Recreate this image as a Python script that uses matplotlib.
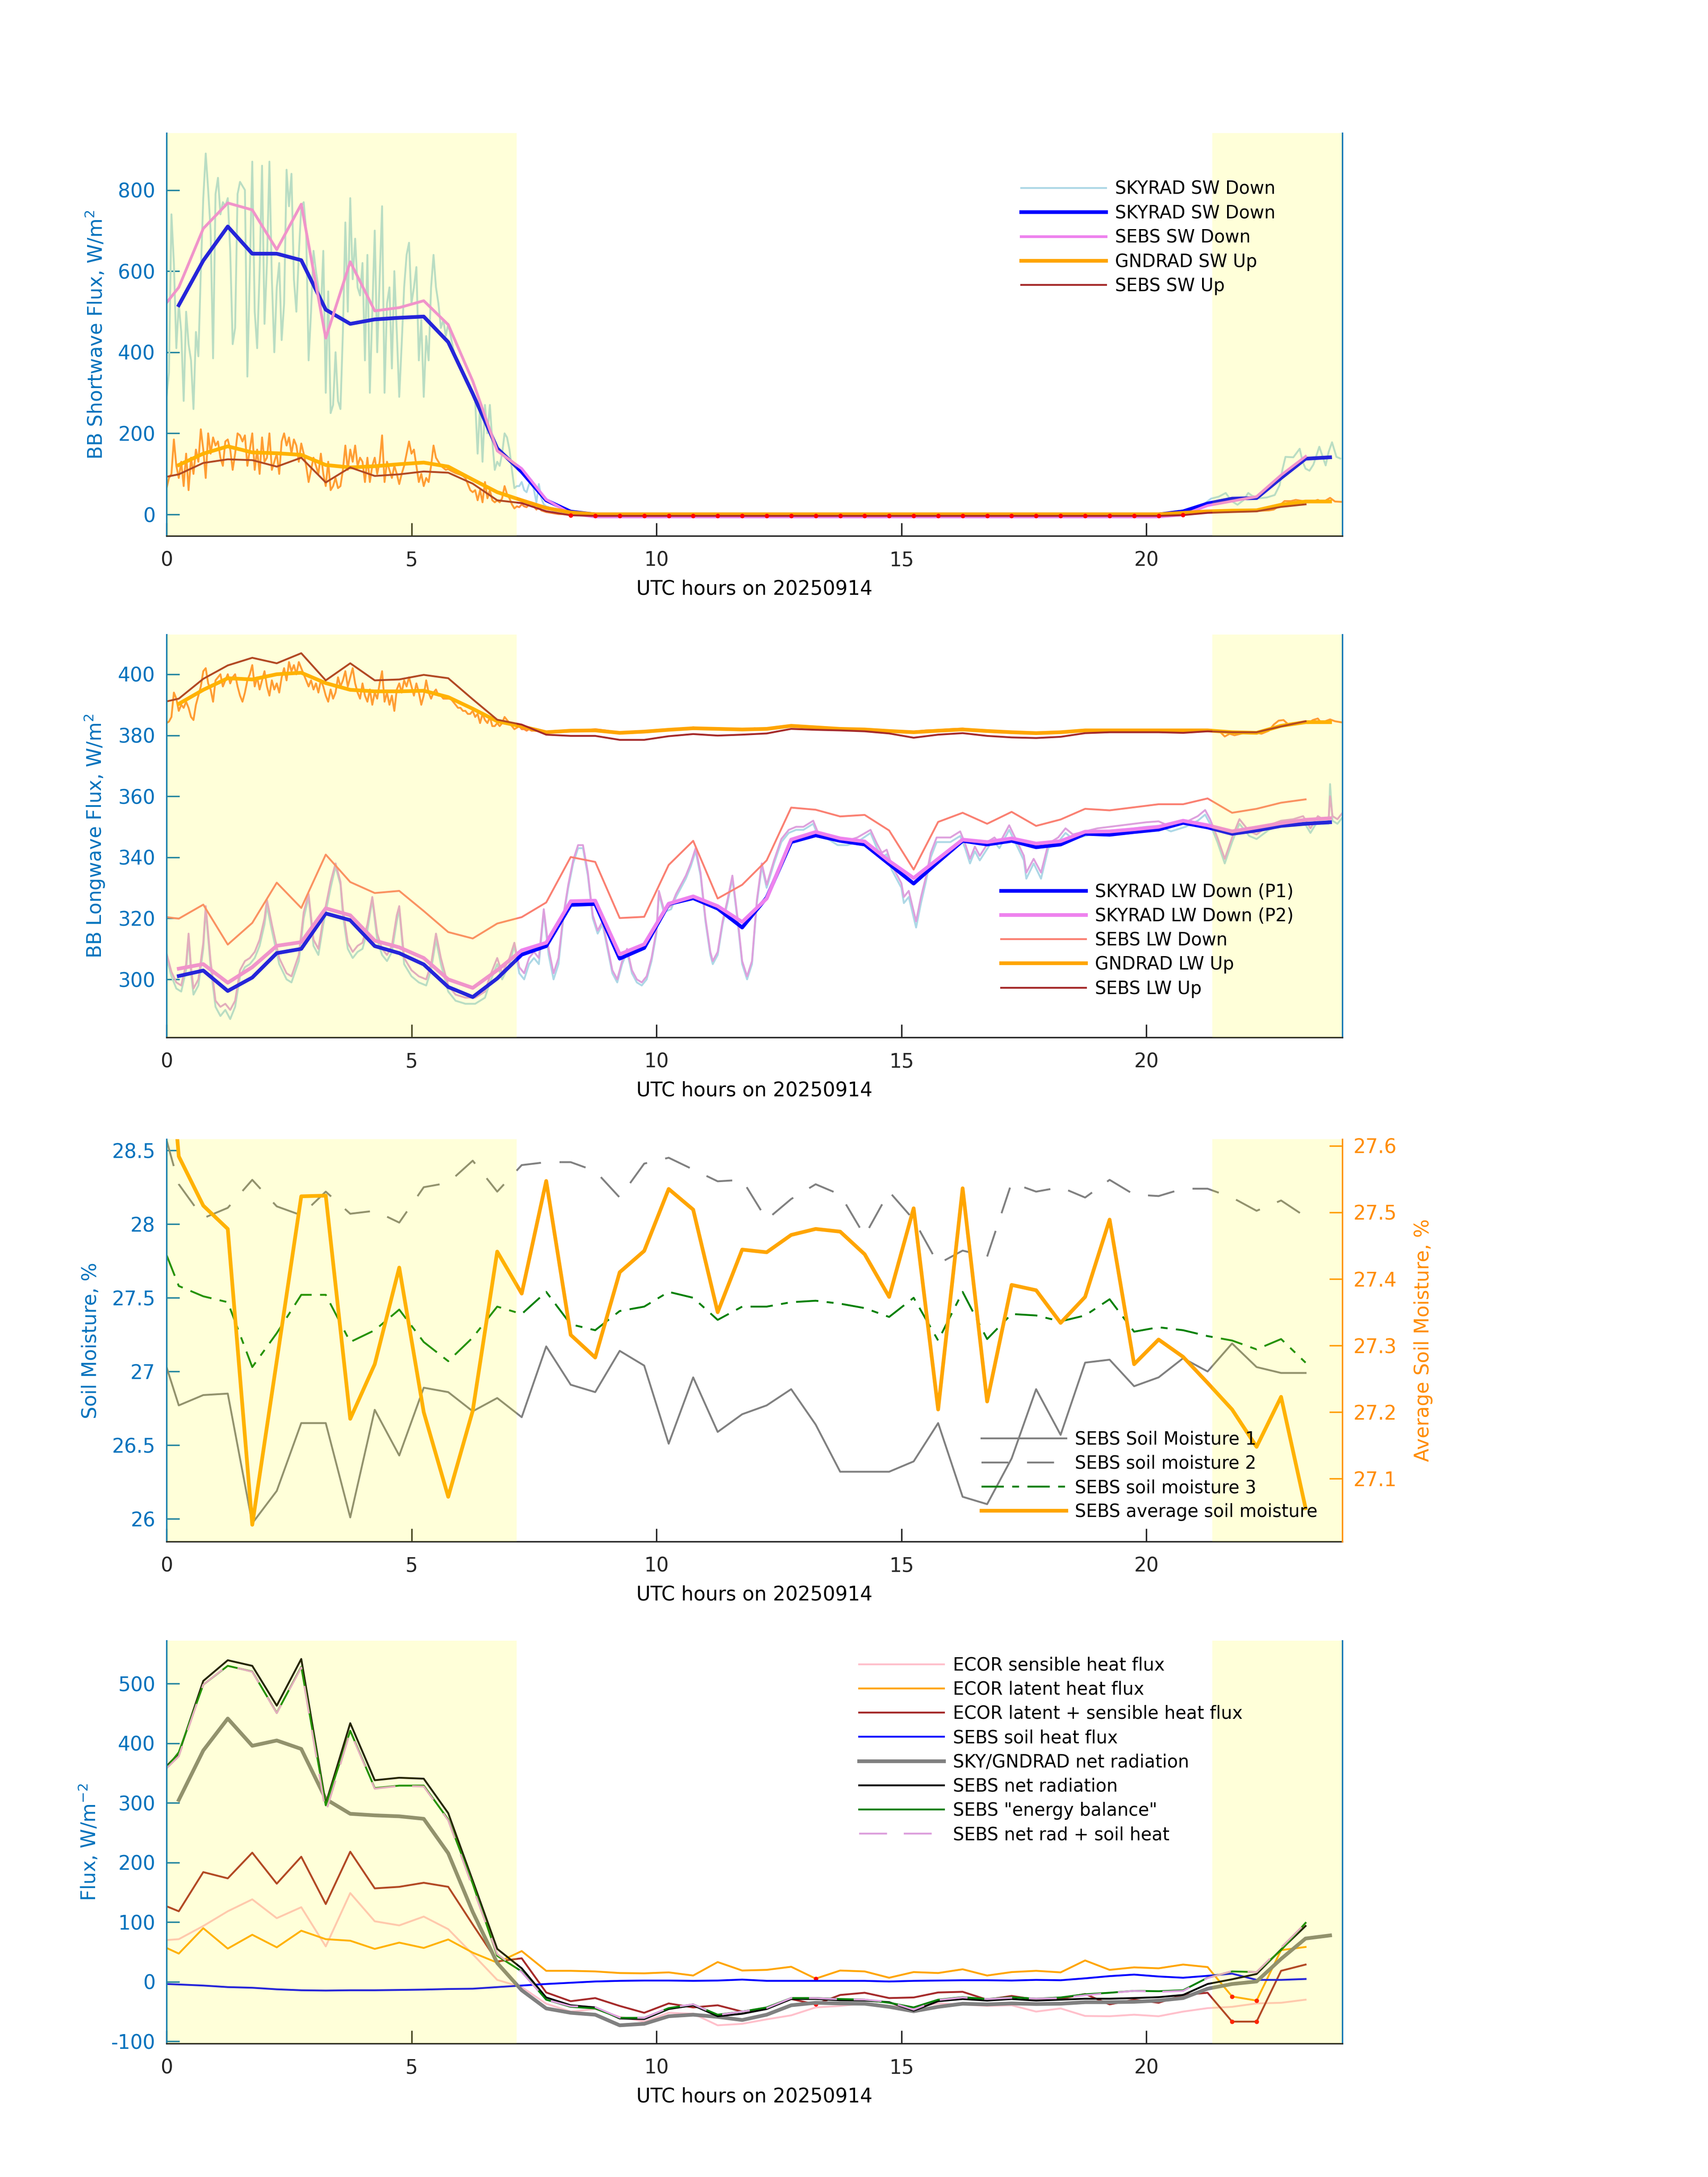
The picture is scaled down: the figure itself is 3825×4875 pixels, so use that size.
import numpy as np
import matplotlib
matplotlib.use('Agg')
import matplotlib.pyplot as plt
from matplotlib.ticker import FuncFormatter

AX_BLUE = '#0072BD'
AX_ORANGE = '#FF8C00'
DARK = '#262626'

# half-hour time grids, UTC hours
t_sky = np.arange(0.25, 24.0, 0.5)
t_sebs = np.r_[0.0, np.arange(0.25, 23.5, 0.5)]

# daylight shading
day_start = [0.0, 21.35]
day_end = [7.15, 24.0]

# ---------------- panel 1: shortwave ----------------
t_hr_morning = np.round(np.arange(0.0, 8.001, 0.05), 2)

sw_dn_hr_late_t = [8.5, 20.5, 20.8, 21.0, 21.2, 21.32, 21.48, 21.62, 21.74, 21.86, 21.98,
                   22.08, 22.16, 22.3, 22.46, 22.62, 22.72, 22.78, 22.84, 23.0, 23.13,
                   23.19, 23.25, 23.33, 23.41, 23.53, 23.66, 23.72, 23.79, 23.88, 23.96]
sw_dn_hr = [
    290, 350, 740, 620, 410, 520, 450, 280, 500, 420, 380, 260, 450, 390, 600, 780, 890, 800, 700, 385,
    790, 830, 740, 770, 760, 780, 650, 420, 460, 790, 820, 810, 800, 340, 600, 870, 500, 410, 600, 860,
    470, 620, 870, 580, 400, 560, 620, 430, 520, 850, 760, 840, 580, 500, 640, 760, 770, 700, 380, 500,
    650, 600, 560, 500, 650, 300, 550, 250, 270, 400, 280, 260, 450, 720, 500, 780, 580, 680, 560, 540,
    620, 380, 640, 300, 500, 700, 400, 580, 760, 300, 520, 560, 360, 600, 450, 290, 420, 560, 640, 670,
    520, 560, 610, 380, 480, 290, 440, 380, 560, 640, 560, 520, 460, 480, 440, 470, 440, 410, 390, 380,
    360, 350, 330, 320, 310, 300, 280, 150, 270, 130, 270, 200, 270, 180, 110, 130, 120, 150, 200, 190,
    160, 110, 65, 70, 70, 80, 60, 55, 75, 85, 60, 30, 75, 40, 25, 20, 18, 12, 8, 5,
    3,
    0, 0, 3, 10, 28, 39, 44, 53, 33, 24, 35, 53, 46, 40, 42, 48, 72, 112, 142, 141,
    162, 130, 113, 108, 123, 167, 121, 154, 178, 142, 138]

sw_up_hr_late_t = [8.5, 20.5, 21.0, 21.5, 22.0, 22.5, 22.6, 22.7, 22.82, 22.95, 23.05,
                   23.2, 23.35, 23.5, 23.6, 23.75, 23.85, 24.0]
sw_up_hr = [
    65, 90, 100, 185, 120, 90, 130, 70, 150, 60, 140, 100, 160, 130, 210, 160, 90, 200, 150, 190,
    170, 180, 140, 120, 180, 185, 160, 110, 150, 200, 195, 180, 195, 120, 160, 200, 110, 160, 100, 190,
    130, 140, 200, 110, 130, 150, 100, 180, 200, 170, 190, 150, 185, 170, 130, 175, 150, 120, 80, 110,
    140, 120, 100, 150, 100, 70, 130, 60, 70, 90, 65, 70, 110, 170, 110, 160, 130, 170, 120, 140,
    130, 80, 140, 80, 120, 140, 100, 130, 195, 80, 130, 110, 90, 120, 100, 75, 100, 120, 150, 180,
    150, 160, 120, 80, 100, 70, 90, 80, 120, 170, 140, 130, 120, 115, 110, 112, 108, 105, 102, 100,
    98, 95, 90, 75, 60, 55, 60, 35, 60, 30, 80, 40, 60, 35, 30, 35, 30, 40, 70, 50,
    40, 25, 15, 20, 18, 25, 20, 18, 25, 30, 20, 12, 20, 10, 8, 6, 5, 4, 3, 2,
    1,
    0, 0, 3, 6, 8, 10, 12, 20, 33, 33, 36, 33, 30, 36, 30, 41, 32, 31]

sky_sw_dn = [516, 626, 710, 643, 643, 627, 505, 470, 481, 485, 488, 425, 298, 163, 105, 35, 7,
             0, 0, 0, 0, 0, 0, 0, 0, 0, 0, 0, 0, 0, 0, 0, 0, 0, 0, 0, 0, 0, 0, 0, 0,
             7.7, 27, 39, 40.5, 90, 137.5, 141]
gnd_sw_up = [122, 150, 168, 153, 151, 147, 122, 116, 119, 124, 128, 118, 86, 55, 35, 16, 5,
             0.5, 0.5, 0.5, 0.5, 0.5, 0.5, 0.5, 0.5, 0.5, 0.5, 0.5, 0.5, 0.5, 0.5, 0.5, 0.5,
             0.5, 0.5, 0.5, 0.5, 0.5, 0.5, 0.5, 0.5,
             4, 7.7, 9.5, 10.3, 24, 32, 32]
sebs_sw_dn = [522, 560, 705, 768, 751, 653, 765, 435, 623, 502, 510, 527, 468, 329, 157, 113, 37, 2,
              -6, -6, -6, -6, -6, -6, -6, -6, -6, -6, -6, -6, -6, -6, -6, -6, -6, -6, -6, -6,
              -6, -6, -6, -6,
              -1, 22, 33, 44, 97, 143]
sebs_sw_up = [93, 99, 127, 136, 134, 118, 140, 79, 116, 95, 99, 106, 103, 76, 35, 28, 8, -2,
              -3.5, -3.5, -3.5, -3.5, -3.5, -3.5, -3.5, -3.5, -3.5, -3.5, -3.5, -3.5, -3.5,
              -3.5, -3.5, -3.5, -3.5, -3.5, -3.5, -3.5, -3.5, -3.5, -3.5, -3.5,
              -1.5, 4, 6, 7.7, 18.7, 25]

# ---------------- panel 2: longwave ----------------
lw_dn_hr_t = [
    0.0, 0.1, 0.2, 0.3, 0.4, 0.45, 0.5, 0.55, 0.65, 0.75, 0.8, 0.9, 1.0, 1.1, 1.2, 1.3, 1.4, 1.5,
    1.6, 1.7, 1.8, 1.9, 2.0, 2.05, 2.15, 2.3, 2.45, 2.55, 2.7, 2.8, 2.9, 3.0, 3.1, 3.2, 3.35, 3.45,
    3.55, 3.6, 3.7, 3.8, 3.9, 4.0, 4.1, 4.2, 4.3, 4.4, 4.5, 4.6, 4.7, 4.75, 4.85, 5.0, 5.15, 5.3,
    5.4, 5.5, 5.6, 5.75, 5.9, 6.1, 6.3, 6.5, 6.6, 6.75, 6.85, 7.0, 7.1, 7.2, 7.3, 7.4, 7.5, 7.6,
    7.7, 7.8, 7.9, 8.0, 8.1, 8.2, 8.3, 8.4, 8.5, 8.6, 8.7, 8.8, 8.9, 9.0, 9.1, 9.2, 9.3, 9.4,
    9.5, 9.6, 9.7, 9.8, 9.9, 10.0, 10.05, 10.15, 10.3, 10.4, 10.5, 10.6, 10.7, 10.8, 10.9, 11.0,
    11.1, 11.15, 11.25, 11.35, 11.45, 11.55, 11.65, 11.75, 11.85, 11.95, 12.05, 12.15, 12.25,
    12.4, 12.55, 12.7, 12.85, 13.0, 13.1, 13.2, 13.3, 13.5, 13.7, 13.9, 14.1, 14.37, 14.5, 14.6,
    14.7, 14.8, 14.9, 15.0, 15.05, 15.15, 15.3, 15.4, 15.5, 15.6, 15.72, 16.0, 16.2, 16.3, 16.4,
    16.5, 16.6, 16.8, 16.9, 17.0, 17.1, 17.2, 17.35, 17.5, 17.55, 17.7, 17.85, 18.0, 18.2, 18.35,
    18.5, 18.75, 19.0, 19.25, 19.5, 19.75, 20.0, 20.25, 20.5, 20.8, 21.05, 21.2, 21.3, 21.45,
    21.6, 21.75, 21.9, 22.1, 22.25, 22.5, 22.75, 23.0, 23.2, 23.35, 23.5, 23.6, 23.72, 23.75,
    23.8, 23.9, 24.0]
lw_dn_p1_hr = [
    307, 301, 297, 296, 303, 314, 302, 295, 298, 310, 323, 304, 291, 288, 290, 287, 291, 301,
    304, 305, 307, 311, 318, 324, 316, 305, 300, 299, 306, 320, 327, 311, 308, 318, 330, 337,
    331, 321, 310, 307, 309, 310, 316, 326, 313, 308, 306, 309, 319, 323, 305, 301, 299, 298,
    303, 313, 305, 296, 293, 292, 292, 294, 299, 305, 300, 305, 311, 302, 300, 305, 307, 305,
    322, 308, 300, 305, 320, 330, 338, 343, 343, 334, 320, 315, 318, 310, 302, 299, 305, 309,
    302, 299, 298, 300, 306, 315, 328, 322, 323, 327, 330, 333, 337, 342, 334, 319,
    308, 305, 308, 318, 325, 333, 320, 305, 300, 305, 325, 337, 330,
    338, 345, 348, 349, 349, 350, 351, 347, 346, 344, 344, 345, 348, 343, 340,
    341, 336, 333, 330, 325, 327, 317, 325, 332, 340, 345, 345, 347, 343, 338,
    342, 339, 344, 345, 343, 346, 349, 344, 339, 333, 338, 333, 343, 345, 348,
    346, 347, 348, 348.5, 349, 349.5, 350, 350.3, 348.5, 350, 352, 354, 351, 345,
    338, 345, 351, 347, 346, 349, 350.5, 351, 352, 348, 352, 351, 351, 364,
    352, 351, 353]
lw_dn_p2_hr = [
    308.5, 302.5, 299, 298, 305, 315, 304, 297, 300, 312, 324, 306, 293, 291, 292, 290, 293, 303,
    306, 307, 309, 313, 320, 326, 318, 307, 302, 301, 308, 322, 328, 313, 310, 320, 332, 338,
    332, 323, 312, 309, 311, 312, 318, 327, 315, 310, 308, 311, 321, 324, 307, 303, 301, 300,
    305, 315, 307, 298, 295, 294, 294, 296, 301, 307, 302, 307, 312, 304, 302, 307, 309, 307,
    323, 310, 302, 307, 321, 331, 339, 344, 344, 335, 321, 316, 319, 311, 303, 300, 306, 310,
    303, 300, 299, 301, 307, 316, 329, 323, 324, 328, 331, 334, 338, 343, 335, 320,
    309, 306, 309, 319, 326, 334, 321, 306, 301, 306, 326, 338, 331,
    339, 346, 349, 350, 350, 351, 352, 348, 347, 345.5, 345.5, 346.5, 349, 344.5, 341.5,
    342.5, 337.5, 334.5, 331.5, 327, 329, 319, 327, 333.5, 341.5, 346.5, 346.5, 348.5, 344.5, 339.5,
    343.5, 340.5, 345.5, 346.5, 344.5, 347.5, 350.5, 345.5, 340.5, 335, 339.5, 335, 344.5, 346.5, 349.5,
    347.5, 348.5, 349.5, 350, 350.5, 351, 351.5, 351.8, 350, 351.5, 353.5, 355.5, 352.5, 346.5,
    339.5, 346.5, 352.5, 348.5, 347.5, 350.5, 352, 352.5, 353.5, 349.5, 353.5, 352.5, 352.5, 360,
    353.5, 352.5, 354.5]

lw_up_hr_late_t = np.r_[np.arange(7.75, 19.01, 0.25),
                        [19.5, 20.0, 20.5, 21.0, 21.5, 21.6, 21.7, 21.8, 22.0, 22.2, 22.35,
                         22.5, 22.6, 22.7, 22.8, 22.9, 23.0, 23.1, 23.2, 23.3, 23.4, 23.5,
                         23.55, 23.65, 23.75, 23.85, 24.0]]
lw_up_hr = [
    384, 384.5, 386, 394, 392, 388, 390, 389, 391, 389, 386, 385, 390, 393, 396, 401, 402, 397, 395, 391,
    398, 399, 400, 396, 398, 400, 397, 399, 400, 396, 393, 391, 394, 398, 400, 403, 396, 399, 395, 398,
    401, 396, 393, 398, 395, 397, 394, 399, 402, 398, 404, 401, 403, 400, 404, 402, 400, 398, 396, 398,
    395, 397, 394, 398, 396, 393, 391, 395, 392, 394, 399, 396, 398, 401, 396, 399, 402, 397, 394, 392,
    397, 393, 391, 395, 390, 394, 392, 397, 401, 391, 394, 390, 393, 388, 395, 397, 394, 398, 396, 399,
    396, 393, 397, 394, 390, 393, 398, 394, 392, 394, 395, 393, 393, 392, 392, 392, 392, 391, 390, 389,
    389, 388, 388, 387, 387, 388, 386, 387, 384, 387, 385, 384, 386, 383, 383, 384, 383, 384, 386, 385,
    384, 383, 382, 382.5, 383, 382, 382, 381.5, 382, 381.5, 381.5,
    381.2, 381.5, 381.3, 381.5, 382, 381.5, 380.6, 380.8, 381, 381.5, 381.8, 382, 382.6, 382.2,
    382, 382, 381.7, 382.3, 382, 382.5, 383, 383, 382.7, 382.3, 382, 382, 381.8, 381.7, 381.2,
    381, 381.2, 381.6, 381.7, 382, 382.2, 381.6, 381.4, 381.2, 380.9, 380.7, 380.8, 381, 381.1,
    381.5, 381.6, 381.6, 381.7, 381.6, 381.5, 381.6, 381.2, 379.6, 380.5, 380, 380.8, 381, 380.5,
    381.5, 383.5, 384.8, 385, 383.5, 384, 383.8, 384.5, 384, 385, 385.5, 384.5, 384.6, 385.2,
    384.6, 384.2]

sky_lw_dn_p1 = [301.1, 302.9, 296.2, 300.6, 308.6, 310.0, 321.6, 319.4, 310.9, 308.6, 304.9, 297.5,
                294.2, 300.3, 308.1, 310.9, 324.4, 324.7, 306.8, 310.3, 324.7, 326.6, 323.2, 317.0,
                326.8, 345.0, 347.2, 345.4, 344.2, 337.8, 331.4, 338.5, 345.4, 344.2, 345.4, 343.3,
                344.2, 347.7, 347.4, 348.3, 349.1, 351.3, 349.8, 347.7, 348.8, 350.3, 351.0, 351.5]
sky_lw_dn_p2 = [303.5, 305.0, 298.9, 304.0, 311.0, 312.2, 323.3, 321.0, 312.7, 310.5, 307.0, 300.0,
                297.2, 303.0, 309.5, 312.0, 325.6, 325.8, 308.2, 311.5, 324.8, 327.2, 324.0, 318.8,
                326.5, 345.8, 348.3, 346.2, 345.2, 338.8, 333.2, 339.5, 345.8, 345.0, 346.2, 344.5,
                345.3, 348.4, 348.5, 349.2, 350.0, 352.0, 350.5, 348.5, 349.8, 351.2, 352.3, 352.8]
sebs_lw_dn = [320.4, 319.9, 324.5, 311.4, 318.5, 331.7, 323.4, 340.9, 331.9, 328.3, 329.0, 322.4,
              315.5, 313.4, 318.3, 320.4, 325.2, 340.1, 338.5, 320.1, 320.5, 337.5, 345.4, 326.5,
              331.0, 339.0, 356.3, 355.6, 353.4, 353.9, 348.8, 336.0, 351.6, 354.6, 351.0, 354.9,
              350.3, 352.4, 355.9, 355.4, 356.4, 357.4, 357.4, 359.3, 354.6, 355.9, 357.9, 359.0]
gnd_lw_up = [390.3, 394.9, 398.7, 398.3, 400.0, 400.5, 397.1, 394.9, 394.4, 394.4, 394.6, 392.5,
             388.7, 384.6, 382.9, 381.0, 381.5, 381.6, 380.8, 381.2, 381.8, 382.3, 382.1, 381.9,
             382.1, 383.1, 382.6, 382.1, 381.9, 381.4, 381.0, 381.5, 381.9, 381.4, 381.0, 380.7,
             381.0, 381.6, 381.6, 381.6, 381.6, 381.6, 381.6, 381.0, 380.8, 383.1, 384.3, 384.3]
sebs_lw_up = [391.1, 392.0, 398.5, 402.9, 405.4, 403.6, 406.9, 398.0, 403.6, 398.0, 398.3, 399.8,
              398.7, 391.8, 385.1, 383.5, 380.2, 379.8, 379.8, 378.5, 378.5, 379.7, 380.4, 379.9,
              380.2, 380.6, 382.1, 381.8, 381.6, 381.3, 380.6, 379.2, 380.2, 380.7, 379.8, 379.3,
              379.1, 379.5, 380.7, 381.0, 381.0, 381.0, 380.8, 381.3, 381.0, 381.0, 382.9, 384.6]

# ---------------- panel 3: soil moisture ----------------
sm1 = [27.03, 26.77, 26.84, 26.85, 25.97, 26.19, 26.65, 26.65, 26.01, 26.74, 26.43, 26.89,
       26.86, 26.73, 26.82, 26.69, 27.17, 26.91, 26.86, 27.14, 27.04, 26.51, 26.96, 26.59,
       26.71, 26.77, 26.88, 26.64, 26.32, 26.32, 26.32, 26.39, 26.65, 26.15, 26.10, 26.41,
       26.88, 26.57, 27.06, 27.08, 26.90, 26.96, 27.09, 27.00, 27.19, 27.03, 26.99, 26.99]
sm2 = [28.57, 28.27, 28.04, 28.11, 28.30, 28.12, 28.06, 28.22, 28.07, 28.09, 28.01, 28.25,
       28.28, 28.43, 28.22, 28.40, 28.42, 28.42, 28.36, 28.18, 28.41, 28.45, 28.37, 28.29,
       28.30, 28.03, 28.17, 28.27, 28.20, 27.92, 28.22, 28.03, 27.73, 27.82, 27.78, 28.28,
       28.22, 28.25, 28.18, 28.30, 28.20, 28.19, 28.24, 28.24, 28.18, 28.09, 28.16, 28.05]
sm3 = [27.79, 27.58, 27.51, 27.47, 27.03, 27.26, 27.52, 27.52, 27.20, 27.28, 27.42, 27.20,
       27.07, 27.23, 27.44, 27.39, 27.54, 27.32, 27.28, 27.41, 27.44, 27.54, 27.50, 27.35,
       27.44, 27.44, 27.47, 27.48, 27.46, 27.43, 27.37, 27.50, 27.21, 27.54, 27.22, 27.39,
       27.38, 27.34, 27.38, 27.49, 27.27, 27.30, 27.28, 27.24, 27.21, 27.15, 27.22, 27.06]
sm_avg = [27.80, 27.584, 27.51, 27.475, 27.031, 27.277, 27.524, 27.525, 27.19, 27.272, 27.417,
          27.2, 27.073, 27.202, 27.441, 27.378, 27.547, 27.316, 27.282, 27.41, 27.442, 27.535,
          27.504, 27.35, 27.444, 27.44, 27.466, 27.475, 27.471, 27.437, 27.373, 27.506, 27.204,
          27.536, 27.216, 27.391, 27.383, 27.334, 27.373, 27.489, 27.272, 27.309, 27.283, 27.244,
          27.204, 27.148, 27.223, 27.056]

# ---------------- panel 4: energy fluxes ----------------
ecor_h = [70, 71.5, 93.6, 118.3, 138.3, 106.7, 125.1, 59.4, 148.8, 101.5, 94.6, 109.4, 88.3,
          46.3, 3.2, -8.9, -36.8, -50, -45.7, -58.9, -66.8, -52, -53.6, -73, -70.5, -63, -56.3,
          -43, -40.5, -36.3, -40.5, -43, -36.3, -37.9, -40.5, -39.4, -50, -44.7, -57.3, -57.8,
          -55.2, -57.8, -50, -44.2, -42, -36.3, -35.2, -30]
ecor_le = [56.8, 47.3, 89.9, 55.7, 78.9, 57.8, 85.7, 71.5, 68.9, 55.2, 65.7, 56.8, 71, 48.9,
           32.1, 51.5, 18.4, 18.4, 17.4, 14.7, 14.2, 15.8, 10.5, 33.1, 18.9, 20, 25.2, 5.3, 18.9,
           17.4, 6.8, 16.3, 14.7, 21, 10.5, 16.3, 18.4, 15.8, 35.8, 20, 24.2, 22.6, 28.9, 24.7,
           -24.7, -31.5, 53.1, 58.4]
ecor_hle = [126.7, 118.3, 184, 173.5, 216.6, 164.6, 209.8, 130.4, 218.2, 156.7, 159.3, 166.1,
            159.3, 96.2, 34.2, 39.4, -17.9, -32.6, -27.3, -40.5, -52, -36.3, -43, -39.4, -50,
            -44.7, -28.9, -37.9, -22.1, -18.4, -27.3, -26.3, -17.9, -16.8, -30, -23.7, -30, -28.4,
            -20.5, -37.9, -30, -35.2, -22.1, -18.4, -66.8, -66.8, 18.4, 28.9]
ecor_flagged = [27, 44, 45]   # indices of QC-flagged ECOR half hours
sebs_g = [-3.7, -4.5, -6.3, -8.9, -10, -12.6, -14.2, -14.7, -14.2, -14.2, -13.7, -13.1, -12.1,
          -11.6, -8.9, -6.3, -3.7, -1.6, 0.5, 1.6, 2.1, 2.1, 1.6, 2.1, 3.7, 1.6, 1.6, 1.6, 1.6,
          1.6, 0.5, 1.6, 2.1, 2.6, 2.6, 2.1, 3.2, 2.6, 5.8, 9.5, 12.1, 8.9, 6.8, 10, 13.7, 3.2,
          3.2, 4.7]
sky_net = [305, 388, 441.6, 395.9, 404.8, 390.6, 306.5, 281.8, 279.2, 277.6, 273.4, 215.6, 117.2,
           31.5, -14.2, -44.7, -52, -55.2, -73, -70.5, -57.8, -55.2, -58.9, -64.1, -55.2, -39.4,
           -35.2, -36.3, -36.8, -42, -49.4, -42, -36.8, -37.9, -36.3, -37.3, -36.8, -34.2, -34.2,
           -33.6, -31.5, -27.3, -11.6, -3.7, 0.5, 38.4, 72.6, 77.8]
sebs_net = [361.7, 382.8, 504.7, 539.4, 530, 463.2, 541.5, 298.6, 433.8, 338.1, 342.3, 340.7,
            282.9, 169.8, 55.2, 22.6, -26.3, -39.4, -43, -61.5, -62.6, -45.7, -39.4, -57.8, -53.6,
            -45.7, -28.9, -28.9, -31, -31.5, -34.2, -48.4, -32.6, -28.9, -31.5, -28.9, -31.5, -30,
            -28.4, -28.4, -27.3, -25.8, -22.1, -3.7, 4.2, 13.1, 54.2, 93.6]
sebs_eb = [359, 385, 498.4, 530, 520.5, 451.1, 528.4, 296, 421.1, 324.9, 329.1, 329.1, 272.3,
           164.6, 43.6, 17.4, -30, -42, -44.7, -60.5, -60.5, -44.2, -37.9, -55.2, -50, -43, -27.3,
           -27.3, -28.9, -30, -35.2, -43, -30, -25.8, -28.9, -25.8, -28.4, -26.3, -21, -18.4,
           -15.2, -15.8, -14.2, 6.8, 17.4, 16.3, 53.1, 98.8]
sebs_rad_g = [358, 378.3, 498.4, 530.5, 520, 450.6, 527.3, 283.9, 419.6, 323.9, 328.6, 327.6,
              270.8, 158.2, 46.3, 16.3, -30, -41, -42.5, -59.9, -60.5, -43.6, -37.8, -55.7, -49.9,
              -44.1, -27.3, -27.3, -29.4, -29.9, -33.7, -46.8, -30.5, -26.3, -28.9, -26.8, -28.3,
              -27.4, -22.6, -18.9, -15.2, -16.9, -15.3, 6.3, 17.9, 16.3, 57.4, 98.3]


LEG = dict(loc='upper left', frameon=False, fontsize=9.5, handlelength=4.8,
           handletextpad=0.5, labelspacing=0.36, borderpad=0, borderaxespad=0)
THICK = 2.0


def fmt(v, pos):
    return f'{v:g}'


def style_axis(ax, ylabel, ylim, yticks):
    ax.set_xlim(0, 24)
    ax.set_ylim(*ylim)
    ax.set_xticks([0, 5, 10, 15, 20])
    ax.set_yticks(yticks)
    ax.yaxis.set_major_formatter(FuncFormatter(fmt))
    ax.spines['top'].set_visible(False)
    ax.spines['left'].set_color(AX_BLUE)
    ax.spines['right'].set_color(AX_BLUE)
    ax.spines['bottom'].set_color(DARK)
    for s in ax.spines.values():
        s.set_linewidth(0.8)
    ax.tick_params(axis='x', direction='in', length=7, width=0.8, color=DARK,
                   labelcolor=DARK, labelsize=10.5, pad=8)
    ax.tick_params(axis='y', direction='in', length=7, width=0.8, color=AX_BLUE,
                   labelcolor=AX_BLUE, labelsize=10.5, pad=6)
    ax.set_xlabel('UTC hours on 20250914', fontsize=10.5, labelpad=5)
    ax.set_ylabel(ylabel, color=AX_BLUE, fontsize=10.5, labelpad=6)


def shade(ax):
    for a, b in zip(day_start, day_end):
        ax.axvspan(a, b, color='yellow', alpha=0.15, lw=0, zorder=10)


def main():
    fig = plt.figure(figsize=(12.75, 16.25), dpi=300)
    left, width, height = 0.0975, 0.6884, 0.185

    # shortwave
    ax1 = fig.add_axes([left, 0.7538, width, height])
    ax1.plot(np.r_[t_hr_morning, sw_dn_hr_late_t], sw_dn_hr, color='lightblue', lw=1.0,
             label='SKYRAD SW Down')
    ax1.plot(np.r_[t_hr_morning, sw_up_hr_late_t], sw_up_hr, color='#FF8C3C', lw=1.0)
    ax1.plot(t_sky, sky_sw_dn, color='blue', lw=THICK, label='SKYRAD SW Down')
    ax1.plot(t_sebs, sebs_sw_dn, color='violet', lw=1.5, label='SEBS SW Down')
    ax1.plot(t_sky, gnd_sw_up, color='orange', lw=THICK, label='GNDRAD SW Up')
    ax1.plot(t_sebs, sebs_sw_up, color='brown', lw=1.0, label='SEBS SW Up')
    up = np.array(sebs_sw_up)
    neg = up < 0
    ax1.plot(t_sebs[neg], up[neg], 'o', color='red', ms=2.4, mec='none')
    style_axis(ax1, 'BB Shortwave Flux, W/m$^2$', (-53, 940), [0, 200, 400, 600, 800])
    shade(ax1)
    ax1.legend(bbox_to_anchor=(0.727, 0.883), **LEG).set_zorder(20)

    # longwave
    ax2 = fig.add_axes([left, 0.5235, width, height])
    ax2.plot(lw_dn_hr_t, lw_dn_p1_hr, color='lightblue', lw=1.0)
    ax2.plot(lw_dn_hr_t, lw_dn_p2_hr, color='plum', lw=1.0)
    ax2.plot(np.r_[np.round(np.arange(0.0, 7.501, 0.05), 2), lw_up_hr_late_t], lw_up_hr,
             color='#FF8C3C', lw=1.0)
    ax2.plot(t_sky, sky_lw_dn_p1, color='blue', lw=THICK, label='SKYRAD LW Down (P1)')
    ax2.plot(t_sky, sky_lw_dn_p2, color='violet', lw=THICK, label='SKYRAD LW Down (P2)')
    ax2.plot(t_sebs, sebs_lw_dn, color='salmon', lw=1.0, label='SEBS LW Down')
    ax2.plot(t_sky, gnd_lw_up, color='orange', lw=THICK, label='GNDRAD LW Up')
    ax2.plot(t_sebs, sebs_lw_up, color='brown', lw=1.0, label='SEBS LW Up')
    style_axis(ax2, 'BB Longwave Flux, W/m$^2$', (281, 413), [300, 320, 340, 360, 380, 400])
    shade(ax2)
    ax2.legend(bbox_to_anchor=(0.71, 0.383), **LEG).set_zorder(20)

    # soil moisture
    ax3 = fig.add_axes([left, 0.2918, width, height])
    h1, = ax3.plot(t_sebs, sm1, color='gray', lw=1.0, label='SEBS Soil Moisture 1')
    h2, = ax3.plot(t_sebs, sm2, color='gray', lw=1.0, ls=(0, (14.5, 10)),
                   label='SEBS soil moisture 2')
    h3, = ax3.plot(t_sebs, sm3, color='green', lw=1.0, ls=(0, (12, 4.5, 3.7, 4.5)),
                   label='SEBS soil moisture 3')
    style_axis(ax3, 'Soil Moisture, %', (25.845, 28.577), [26, 26.5, 27, 27.5, 28, 28.5])
    ax3.spines['right'].set_visible(False)
    ax3r = ax3.twinx()
    h4, = ax3r.plot(t_sebs, sm_avg, color='orange', lw=THICK, label='SEBS average soil moisture')
    ax3r.set_ylim(27.0055, 27.61)
    ax3r.set_yticks([27.1, 27.2, 27.3, 27.4, 27.5, 27.6])
    ax3r.yaxis.set_major_formatter(FuncFormatter(fmt))
    for side in ['top', 'left', 'bottom']:
        ax3r.spines[side].set_visible(False)
    ax3r.spines['right'].set_color(AX_ORANGE)
    ax3r.spines['right'].set_linewidth(0.8)
    ax3r.tick_params(axis='y', direction='in', length=7, width=0.8, color=AX_ORANGE,
                     labelcolor=AX_ORANGE, labelsize=10.5, pad=6)
    ax3r.set_ylabel('Average Soil Moisture, %', color=AX_ORANGE, fontsize=10.5, labelpad=9)
    shade(ax3r)
    ax3r.legend(handles=[h1, h2, h3, h4], bbox_to_anchor=(0.693, 0.276), **LEG).set_zorder(20)

    # energy fluxes
    ax4 = fig.add_axes([left, 0.0613, width, height])
    ax4.plot(t_sebs, ecor_h, color='pink', lw=1.0, label='ECOR sensible heat flux')
    ax4.plot(t_sebs, ecor_le, color='orange', lw=1.0, label='ECOR latent heat flux')
    ax4.plot(t_sebs, ecor_hle, color='brown', lw=1.0, label='ECOR latent + sensible heat flux')
    ax4.plot(t_sebs[ecor_flagged], np.array(ecor_le)[ecor_flagged], 'o', color='red',
             ms=2.4, mec='none')
    ax4.plot(t_sebs[ecor_flagged], np.array(ecor_hle)[ecor_flagged], 'o', color='red',
             ms=2.4, mec='none')
    ax4.plot(t_sebs, sebs_g, color='blue', lw=1.0, label='SEBS soil heat flux')
    ax4.plot(t_sky, sky_net, color='gray', lw=THICK, label='SKY/GNDRAD net radiation')
    ax4.plot(t_sebs, sebs_net, color='black', lw=1.0, label='SEBS net radiation')
    ax4.plot(t_sebs, sebs_eb, color='green', lw=1.0, label='SEBS "energy balance"')
    ax4.plot(t_sebs, sebs_rad_g, color='plum', lw=1.0, ls=(0, (15, 9)),
             label='SEBS net rad + soil heat')
    style_axis(ax4, 'Flux, W/m$^{-2}$', (-103.6, 572), [-100, 0, 100, 200, 300, 400, 500])
    shade(ax4)
    ax4.legend(bbox_to_anchor=(0.589, 0.961), **LEG).set_zorder(20)

    fig.savefig('out.png', dpi=300)


if __name__ == "__main__":
    main()
